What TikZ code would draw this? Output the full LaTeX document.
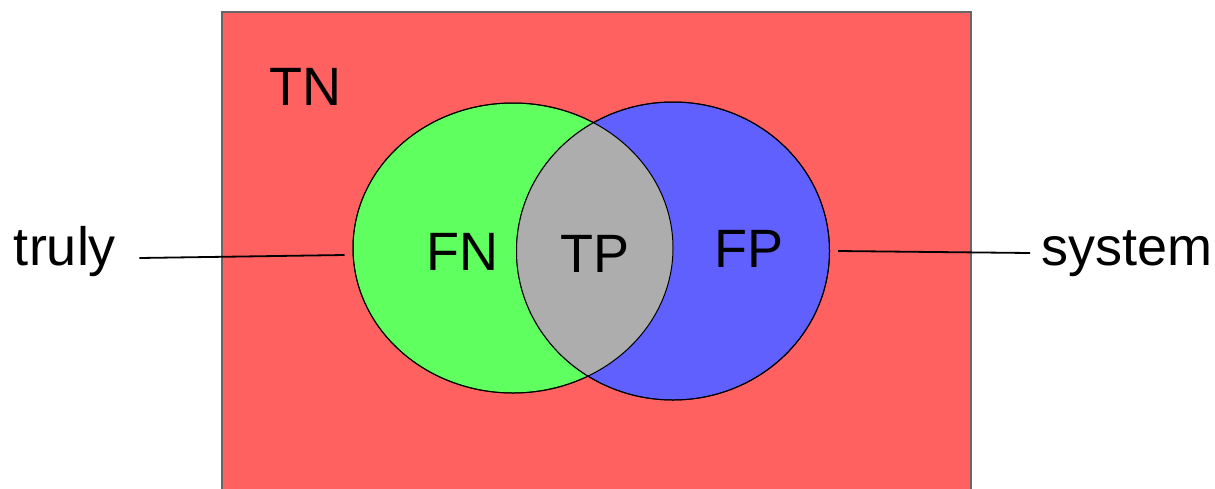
\documentclass[tikz,border=0pt]{standalone}
\usepackage{fontspec}
\setmainfont{Liberation Sans}
\usetikzlibrary{shapes.geometric, positioning}

\definecolor{tnred}{HTML}{FF6060}
\definecolor{fngreen}{HTML}{60FF60}
\definecolor{fpblue}{HTML}{6060FF}
\definecolor{tpgray}{HTML}{ADADAD}

\begin{document}
\begin{tikzpicture}[
      x=0.5pt, y=-0.5pt,
      font=\fontsize{27}{30}\selectfont,
      set/.style={ellipse, draw=black, line width=0.5pt, inner sep=0pt},
      lbl/.style={inner sep=0pt},
      line/.style={line width=0.9pt}
    ]
      \useasboundingbox (0,0) rectangle (1215,488);
      \filldraw [fill=tnred, draw=black!60, line width=0.6pt] (222,12) rectangle (971,500);

      \node (truly) [set, fill=fngreen, minimum width=160pt, minimum height=145pt] at (513,248) {};
      \node (system) [set, fill=fpblue, minimum width=156.5pt, minimum height=149pt] at (673,251) {};
      \begin{scope}
        \clip (513,248) ellipse (160 and 145);
        \fill [tpgray] (673,251) ellipse (156.5 and 149);
      \end{scope}
      \node [set, minimum width=160pt, minimum height=145pt] at (truly) {};
      \node [set, minimum width=156.5pt, minimum height=149pt] at (system) {};

      \node (tn) [lbl] at (305,87) {TN};
      \node (fn) [lbl] at (462,252) {FN};
      \node (tp) [lbl] at (595,254) {TP};
      \node (fp) [lbl] at (749,249) {FP};

      \node (trulylbl) [lbl] at (65,252) {truly};
      \node (systemlbl) [lbl] at (1127,254) {system};

      \draw [line] ([xshift=11.5pt, yshift=-3pt]trulylbl.east) -- ([xshift=-4pt, yshift=-3.5pt]truly.west);
      \draw [line] ([xshift=4pt]system.east) -- ([xshift=-5.5pt, yshift=0.5pt]systemlbl.west);
    \end{tikzpicture}
\end{document}
